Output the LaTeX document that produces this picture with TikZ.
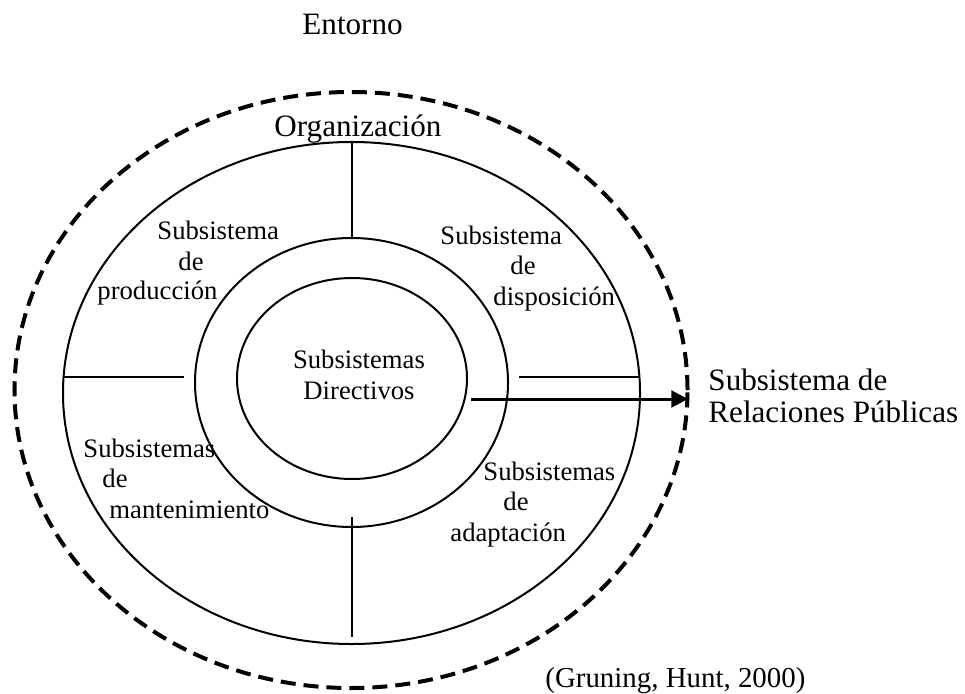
\documentclass[tikz,border=0pt]{standalone}
\usepackage{fontspec}
\setmainfont{Liberation Serif}
\usetikzlibrary{arrows.meta,shapes.geometric}
\begin{document}
\begin{tikzpicture}[x=0.45pt,y=-0.45pt,
  ring/.style={draw, ellipse, inner sep=0pt, outer sep=0pt, line width=0.9pt},
  envring/.style={draw, ellipse, inner sep=0pt, outer sep=0pt, line width=1.8pt, dash pattern=on 6.75pt off 3.6pt},
  sepline/.style={line width=0.9pt},
  lbl/.style={inner sep=0pt, anchor=base west, font=\fontsize{12}{14}\selectfont},
  lblc/.style={inner sep=0pt, anchor=base, font=\fontsize{12}{14}\selectfont},
  big/.style={inner sep=0pt, anchor=base west, font=\fontsize{14}{16}\selectfont},
  flow/.style={line width=1.35pt, -{Triangle[length=7.5pt,width=7.5pt]}}]
\useasboundingbox (0,0) rectangle (965,693);

% rings
\node[envring, minimum width=302.85pt, minimum height=268.2pt] (env) at (351,390) {};
\node[ring, minimum width=259.65pt, minimum height=225.9pt] (org) at (351.5,393) {};
\node[ring, minimum width=140.85pt, minimum height=130.05pt] (mid) at (351.5,382.5) {};
\node[ring, minimum width=103.5pt, minimum height=90.45pt] (core) at (352,378.5) {};

% separators
\coordinate (lm) at (184,377);
\coordinate (rm) at (519,377);
\coordinate (bt) at (352,517);
\coordinate (bb) at (352,637);
\draw[sepline] (org.north) -- (mid.north);
\draw[sepline] (org.west |- lm) -- (lm);
\draw[sepline] (rm) -- (org.east |- rm);
\draw[sepline] (bt) -- (bb);

% arrow
\coordinate (as) at (471,399);
\coordinate (ae) at (688,399);
\draw[flow] (as) -- (ae);

% labels
\node[big] (entorno) at (302,35) {Entorno};
\node[big] (orgl) at (274,137) {Organización};

\node[lbl] (p1) at (157,240) {Subsistema};
\node[lbl] (p2) at (178,270) {de};
\node[lbl] (p3) at (97,300) {producción};

\node[lbl] (d1) at (440,245) {Subsistema};
\node[lbl] (d2) at (510,275) {de};
\node[lbl] (d3) at (493,305) {disposición};

\node[lblc] (c1) at (359,368) {Subsistemas};
\node[lblc] (c2) at (359,399) {Directivos};

\node[lbl] (m1) at (83,457) {Subsistemas};
\node[lbl] (m2) at (102,487) {de};
\node[lbl] (m3) at (109,518) {mantenimiento};

\node[lbl] (a1) at (483,480) {Subsistemas};
\node[lbl] (a2) at (503,510) {de};
\node[lbl] (a3) at (450,541) {adaptación};

\node[big] (rp1) at (708,390) {Subsistema de};
\node[big] (rp2) at (708,422) {Relaciones Públicas};

\node[inner sep=0pt, anchor=base west, font=\fontsize{13}{15}\selectfont] (src) at (545,687) {(Gruning, Hunt, 2000)};
\end{tikzpicture}
\end{document}
